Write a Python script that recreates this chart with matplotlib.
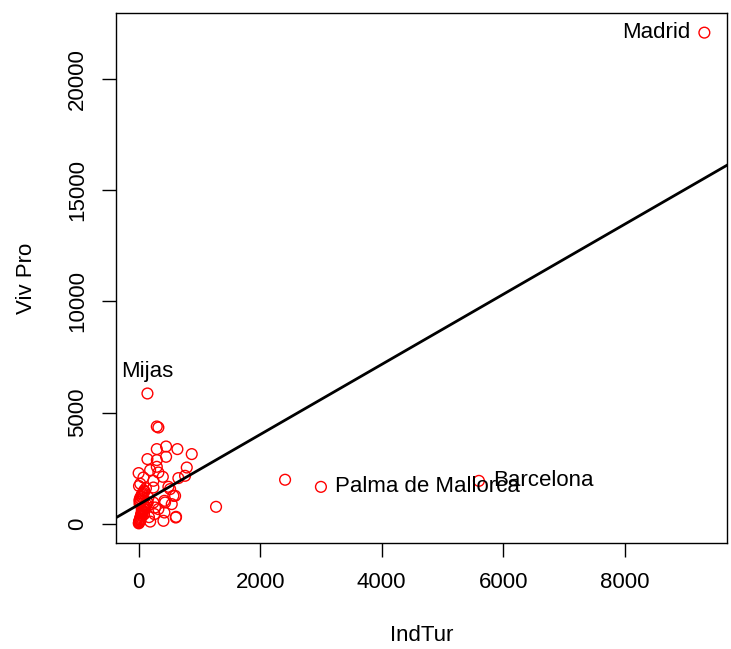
import numpy as np
import matplotlib
matplotlib.use("Agg")
import matplotlib.pyplot as plt

plt.rcParams['font.family'] = ['Liberation Sans', 'DejaVu Sans']

# Scattered municipalities (IndTur, Viv Pro)
ind_tur = [
    145, 299, 325, 452, 638, 874, 299, 145, 299, 452, 299, 792, 0, 189, 325,
    398, 764, 654, 79, 243, 490, 572, 424, 325, 424, 408, 616, 1274, 271, 161,
    243, 518, 600, 435, 545, 611, 243, 260,
    2410, 3000, 5600, 9310,
    # dense group near the origin
    5, 10, 20, 30, 40, 50, 60, 80, 100, 15, 25, 35, 45, 55, 70, 90,
    8, 18, 28, 38, 48, 65, 85, 110, 130, 150, 12, 22, 42, 62, 95, 120,
    3, 33, 58, 75, 105, 140, 170, 190, 6, 27, 52, 88,
]
viv_pro = [
    5856, 4373, 4328, 3474, 3357, 3133, 3357, 2908, 2863, 3011, 2562, 2530, 2279, 2413, 2306,
    2112, 2157, 2054, 2081, 1631, 1663, 1258, 1034, 661, 508, 135, 315, 764, 733, 1182,
    1933, 1560, 1258, 957, 885, 283, 957, 436,
    1980, 1660, 1930, 22070,
    50, 120, 200, 300, 400, 500, 600, 700, 800, 900, 1000, 1100, 1200, 1300, 1400, 1500,
    80, 150, 250, 350, 450, 550, 650, 750, 850, 950, 1050, 1150, 1250, 1350, 1450, 1600,
    20, 180, 380, 580, 780, 980, 300, 100, 1700, 1800, 620, 420,
]

labels = {"Mijas": (145, 5856, "top"),
          "Palma de Mallorca": (3000, 1660, "right"),
          "Barcelona": (5600, 1930, "right"),
          "Madrid": (9310, 22070, "left")}

x = np.array(ind_tur, dtype=float)
y = np.array(viv_pro, dtype=float)

fig = plt.figure(figsize=(7.31, 6.49), dpi=100)
ax = fig.add_axes([116/731, 1-543/649, (727-116)/731, (543-13)/649])

ax.scatter(x, y, s=60, facecolors='none', edgecolors='red', linewidths=1.0, zorder=3)

# R-style axis ranges (4% padding)
xr = x.max() - x.min()
yr = y.max() - y.min()
ax.set_xlim(x.min() - 0.04*xr, x.max() + 0.04*xr)
ax.set_ylim(y.min() - 0.04*yr, y.max() + 0.04*yr)

slope, intercept = np.polyfit(x, y, 1)
xl = np.array(ax.get_xlim())
ax.plot(xl, intercept + slope*xl, color='black', lw=2.0, zorder=4)

fs = 16
for name, (lx, ly, pos) in labels.items():
    if pos == "top":
        ax.annotate(name, (lx, ly), xytext=(0, 8), textcoords='offset points',
                    ha='center', va='bottom', fontsize=fs)
    elif pos == "right":
        ax.annotate(name, (lx, ly), xytext=(10, 0), textcoords='offset points',
                    ha='left', va='center', fontsize=fs)
    else:
        ax.annotate(name, (lx, ly), xytext=(-10, 0), textcoords='offset points',
                    ha='right', va='center', fontsize=fs)

ax.set_xticks([0, 2000, 4000, 6000, 8000])
ax.set_yticks([0, 5000, 10000, 15000, 20000])
ax.tick_params(axis='both', direction='out', length=10, width=1, labelsize=fs)
ax.tick_params(axis='x', pad=11)
ax.tick_params(axis='y', pad=10)
for lab in ax.get_yticklabels():
    lab.set_rotation(90)
    lab.set_va('center')
for sp in ax.spines.values():
    sp.set_linewidth(1.0)

ax.set_xlabel("IndTur", fontsize=fs, labelpad=23)
ax.set_ylabel("Viv Pro", fontsize=fs, labelpad=22)

fig.savefig("out.png", dpi=100)
